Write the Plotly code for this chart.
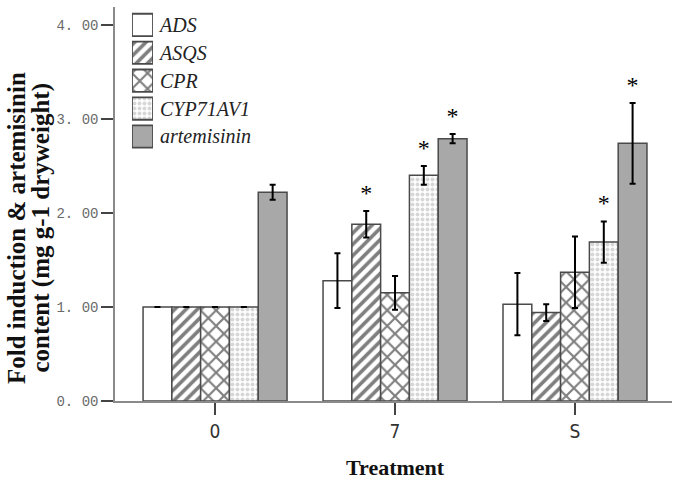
import plotly.graph_objects as go

# ---- data ----
groups = ["0", "7", "S"]
series_names = ["ADS", "ASQS", "CPR", "CYP71AV1", "artemisinin"]
ADS = [1.00, 1.28, 1.03]
ASQS = [1.00, 1.88, 0.94]
CPR = [1.00, 1.15, 1.37]
CYP71AV1 = [1.00, 2.40, 1.69]
artemisinin = [2.22, 2.79, 2.74]
err_ADS = [0.00, 0.29, 0.33]
err_ASQS = [0.00, 0.14, 0.09]
err_CPR = [0.00, 0.18, 0.38]
err_CYP71AV1 = [0.00, 0.10, 0.22]
err_artemisinin = [0.08, 0.05, 0.43]
star_ADS = ["", "", ""]
star_ASQS = ["", "*", ""]
star_CPR = ["", "", ""]
star_CYP71AV1 = ["", "*", "*"]
star_artemisinin = ["", "*", "*"]
y_ticks = [0, 1, 2, 3, 4]
y_ticktext = ["0. 00", "1. 00", "2. 00", "3. 00", "4. 00"]
y_title_lines = ["Fold induction & artemisinin", "content (mg g-1 dryweight)"]
x_title = "Treatment"

values = [ADS, ASQS, CPR, CYP71AV1, artemisinin]
errors = [err_ADS, err_ASQS, err_CPR, err_CYP71AV1, err_artemisinin]
stars = [star_ADS, star_ASQS, star_CPR, star_CYP71AV1, star_artemisinin]

# ---- styles ----
fills = ["white", "white", "white", "white", "#a8a8a8"]
patterns = [
    dict(shape=""),
    dict(shape="/", fgcolor="black", bgcolor="white", size=8, solidity=0.45),
    dict(shape="x", fgcolor="black", bgcolor="white", size=11, solidity=0.35),
    dict(shape=".", fgcolor="#b0b0b0", bgcolor="white", size=5, solidity=0.5),
    dict(shape=""),
]
outline = dict(color="#4a4a4a", width=1.5)
serif = "Liberation Serif, Times New Roman, serif"

bargap = 0.2
n = len(series_names)
bw = (1 - bargap) / n
xs = list(range(len(groups)))

fig = go.Figure()
for i, name in enumerate(series_names):
    fig.add_trace(go.Bar(
        x=xs, y=values[i], name=name, showlegend=False,
        marker=dict(color=fills[i], pattern=patterns[i], line=outline),
        error_y=dict(type="data", array=errors[i], color="black",
                     thickness=2, width=3),
    ))

# significance stars above error bars
for i in range(n):
    sx = [g + (i - (n - 1) / 2) * bw for g in xs]
    sy = [values[i][g] + errors[i][g] + 0.17 for g in xs]
    fig.add_trace(go.Scatter(
        x=sx, y=sy, text=stars[i], mode="text", showlegend=False,
        textposition="middle center", hoverinfo="skip",
        textfont=dict(family=serif, size=24, color="black"),
    ))

# manual legend (pattern boxes) on its own small axes
for i, name in enumerate(series_names):
    fig.add_trace(go.Bar(
        x=[1], y=[name], orientation="h", xaxis="x2", yaxis="y2",
        showlegend=False, hoverinfo="skip",
        marker=dict(color=fills[i], pattern=patterns[i],
                    line=dict(color="#4a4a4a", width=1.8)),
    ))

fig.update_layout(
    width=679, height=479,
    margin=dict(l=115, r=7, t=7, b=78),
    paper_bgcolor="white", plot_bgcolor="white",
    barmode="group", bargap=bargap, bargroupgap=0,
    showlegend=False,
    xaxis=dict(
        range=[-0.556, 2.539], tickvals=xs, ticktext=groups,
        showline=True, linecolor="#8a8a8a", linewidth=1.5,
        ticks="outside", ticklen=12, tickcolor="#444", tickwidth=1.5,
        tickfont=dict(family="Liberation Sans Narrow, DejaVu Sans Condensed, Liberation Sans", size=19, color="#333"),
        showgrid=False, zeroline=False, fixedrange=True,
    ),
    yaxis=dict(
        range=[0, 4.19], tickvals=y_ticks, ticktext=y_ticktext,
        showline=True, linecolor="#8a8a8a", linewidth=1.5,
        ticks="outside", ticklen=12, tickcolor="#444", tickwidth=1.5,
        ticklabelstandoff=0,
        tickfont=dict(family="Liberation Mono, DejaVu Sans Mono, monospace", size=14, color="#6a6a6a"),
        showgrid=False, zeroline=False,
    ),
    xaxis2=dict(domain=[0.0305, 0.0682], range=[0, 1], anchor="y2",
                visible=False, fixedrange=True),
    yaxis2=dict(domain=[0.636, 0.99], anchor="x2", side="right",
                autorange="reversed", showline=False, showgrid=False,
                zeroline=False, ticks="", ticklabelstandoff=6,
                tickfont=dict(family=serif, size=20, color="#222", style="italic")),
    annotations=[
        dict(text=x_title, xref="x", yref="paper", x=1, y=-0.168,
             xanchor="center", yanchor="middle", showarrow=False,
             font=dict(family=serif, size=22, color="#111", weight="bold")),
        dict(text=y_title_lines[0],
             xref="paper", yref="paper", x=-0.177, y=0.44, textangle=-90,
             xanchor="center", yanchor="middle", showarrow=False,
             font=dict(family=serif, size=25, color="#111", weight="bold")),
        dict(text=y_title_lines[1],
             xref="paper", yref="paper", x=-0.133, y=0.44, textangle=-90,
             xanchor="center", yanchor="middle", showarrow=False,
             font=dict(family=serif, size=25, color="#111", weight="bold")),
    ],
)

fig.write_html("out.html", config={"displayModeBar": False},
               post_script="document.body.style.margin='0';")
